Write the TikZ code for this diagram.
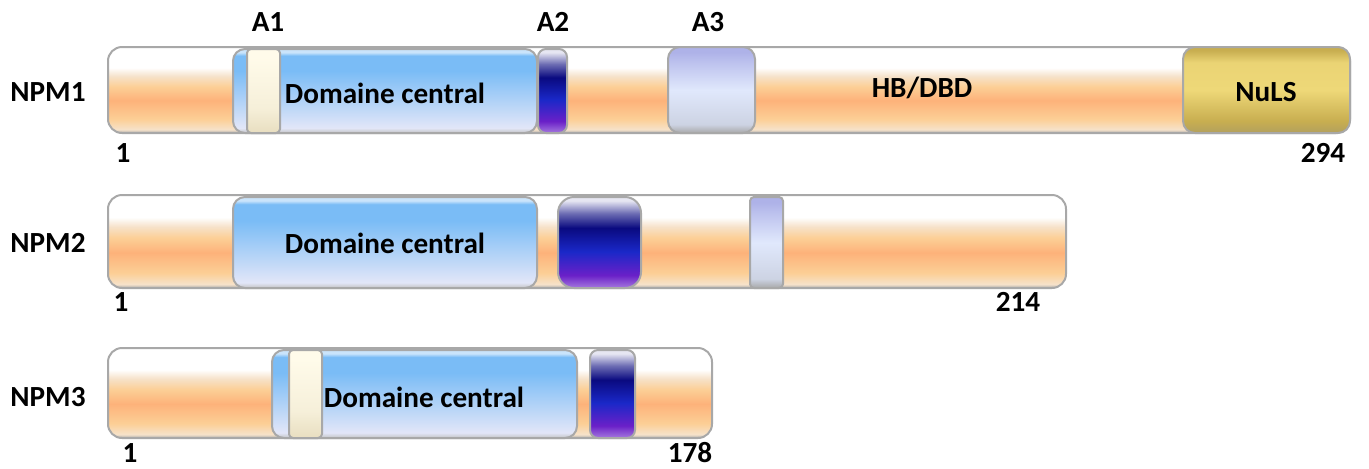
\documentclass[tikz,border=0pt]{standalone}
\usepackage{fontspec}
\setmainfont{Carlito}
\definecolor{rimgray}{HTML}{A8A8A8}
\definecolor{orpeak}{HTML}{FDB27A}
\definecolor{ormid}{HTML}{FCCF96}
\definecolor{orlow}{HTML}{F6E2CA}
\definecolor{bluetop}{HTML}{7ABCF6}
\definecolor{bluelow}{HTML}{E2E6F8}
\definecolor{navy}{HTML}{0A0A80}
\definecolor{royal}{HTML}{1A28C8}
\definecolor{violet}{HTML}{6A20C8}
\definecolor{lavtop}{HTML}{AEB2E8}
\definecolor{lavlow}{HTML}{E0E8FC}
\definecolor{goldmid}{HTML}{EED878}
\definecolor{golddark}{HTML}{C8AE50}
\definecolor{creamlow}{HTML}{E8DEC0}
\definecolor{creamtop}{HTML}{FFFBEA}
\pgfdeclareverticalshading{orangebar}{100bp}{color(0bp)=(rimgray); color(25bp)=(rimgray); color(27bp)=(orlow); color(33bp)=(ormid); color(44bp)=(orpeak); color(52bp)=(ormid); color(58bp)=(orlow); color(63bp)=(white); color(100bp)=(white)}
\pgfdeclareverticalshading{bluebox}{100bp}{color(0bp)=(rimgray); color(25bp)=(rimgray!70); color(28bp)=(bluelow); color(45bp)=(bluetop!50!bluelow); color(62bp)=(bluetop); color(71bp)=(bluetop); color(73bp)=(bluetop!40); color(100bp)=(bluetop!40)}
\pgfdeclareverticalshading{navybox}{100bp}{color(0bp)=(violet!60); color(25bp)=(violet!60); color(32bp)=(violet); color(45bp)=(royal); color(58bp)=(navy); color(66bp)=(navy!60); color(73bp)=(white!90!navy); color(100bp)=(white!90!navy)}
\pgfdeclareverticalshading{lavbox}{100bp}{color(0bp)=(rimgray); color(25bp)=(rimgray); color(30bp)=(lavlow!80!gray); color(50bp)=(lavlow); color(66bp)=(lavtop!70!lavlow); color(72bp)=(lavtop); color(100bp)=(lavtop)}
\pgfdeclareverticalshading{goldbox}{100bp}{color(0bp)=(golddark!70!gray); color(25bp)=(golddark!70!gray); color(32bp)=(golddark); color(50bp)=(goldmid); color(66bp)=(goldmid!90!golddark); color(73bp)=(golddark); color(100bp)=(golddark)}
\pgfdeclareverticalshading{creambox}{100bp}{color(0bp)=(creamlow); color(25bp)=(creamlow); color(40bp)=(creamtop!60!creamlow); color(70bp)=(creamtop); color(100bp)=(creamtop)}
\begin{document}
\begin{tikzpicture}[x=0.5pt,y=-0.5pt,
  bar/.style={draw=rimgray,line width=1pt,rounded corners=7pt,shade,shading=orangebar},
  dom/.style={draw=rimgray,line width=1pt,rounded corners=6pt,shade},
  central/.style={dom,shading=bluebox},
  acidic/.style={dom,rounded corners=2pt,shading=creambox},
  basicbox/.style={dom,rounded corners=4pt,shading=navybox},
  lavbox/.style={dom,shading=lavbox},
  nulsbox/.style={dom,shading=goldbox},
  lbl/.style={font=\fontsize{14.6}{16}\selectfont\bfseries,inner sep=0pt}]
\useasboundingbox (0,0) rectangle (1369,468);
% NPM1
\path[bar] (108,47) rectangle (1350,133);
\path[central] (233,49) rectangle (537,133);
\path[acidic] (247,49) rectangle (280,133);
\path[basicbox] (538,49) rectangle (567,133);
\path[lavbox] (668,47) rectangle (755,133);
\path[nulsbox] (1183,47) rectangle (1350,133);
\node[lbl] (npm1) at (48,92) {NPM1};
\node[lbl] (a1) at (268,22) {A1};
\node[lbl] (a2) at (553,22) {A2};
\node[lbl] (a3) at (708,22) {A3};
\node[lbl] (core1) at (385,93) {Domaine central};
\node[lbl] (hb) at (922,88) {HB/DBD};
\node[lbl] (nuls) at (1266,92) {NuLS};
\node[lbl] (start1) at (123,153) {1};
\node[lbl] (end1) at (1323,153) {294};
% NPM2
\path[bar] (108,195) rectangle (1066,288);
\path[central] (233,197) rectangle (537,288);
\path[basicbox,rounded corners=8pt] (558,197) rectangle (641,288);
\path[lavbox,rounded corners=2pt] (750,197) rectangle (783,288);
\node[lbl] (npm2) at (48,243) {NPM2};
\node[lbl] (core2) at (385,243) {Domaine central};
\node[lbl] (start2) at (121,302) {1};
\node[lbl] (end2) at (1018,302) {214};
% NPM3
\path[bar] (108,348) rectangle (712,438);
\path[central] (272,350) rectangle (577,438);
\path[acidic] (289,350) rectangle (322,438);
\path[basicbox] (590,350) rectangle (635,438);
\node[lbl] (npm3) at (48,397) {NPM3};
\node[lbl] (core3) at (424,397) {Domaine central};
\node[lbl] (start3) at (130,453) {1};
\node[lbl] (end3) at (690,453) {178};
\end{tikzpicture}
\end{document}
